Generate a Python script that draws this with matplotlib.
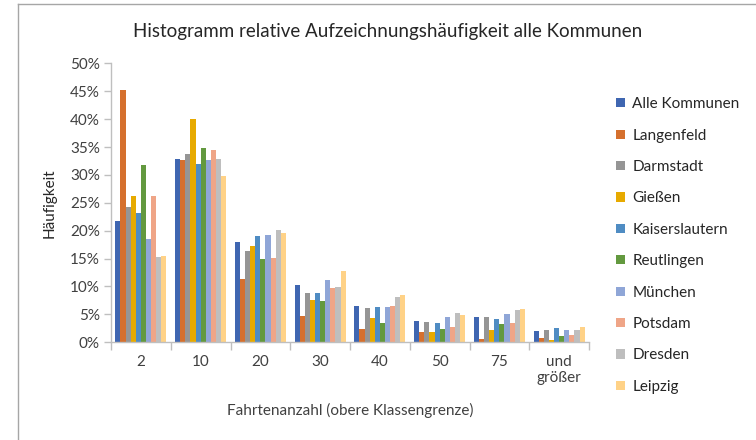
import matplotlib
matplotlib.use("Agg")
import matplotlib.pyplot as plt
from matplotlib.lines import Line2D
from matplotlib.ticker import PercentFormatter, FixedLocator
import numpy as np

plt.rcParams['font.family'] = ['Lato', 'DejaVu Sans']

# class upper bounds
categories = ["2", "10", "20", "30", "40", "50", "75", "und\ngrößer"]

# relative frequency in percent per town
alle_kommunen   = [21.7, 32.9, 17.9, 10.2, 6.5, 3.8, 4.6, 2.1]
langenfeld      = [45.2, 32.6, 11.4, 4.7, 2.4, 1.9, 0.6, 0.8]
darmstadt       = [24.3, 33.8, 16.3, 8.8, 6.1, 3.7, 4.5, 2.2]
giessen         = [26.2, 40.0, 17.2, 7.6, 4.3, 1.9, 2.2, 0.4]
kaiserslautern  = [23.2, 32.0, 19.1, 8.8, 6.3, 3.5, 4.1, 2.5]
reutlingen      = [31.7, 34.9, 15.0, 7.4, 3.5, 2.4, 3.3, 1.2]
muenchen        = [18.6, 32.6, 19.2, 11.1, 6.3, 4.5, 5.0, 2.2]
potsdam         = [26.2, 34.5, 15.1, 9.7, 6.5, 2.7, 3.5, 1.3]
dresden         = [15.3, 32.9, 20.1, 9.9, 8.1, 5.3, 5.8, 2.2]
leipzig         = [15.4, 29.8, 19.6, 12.7, 8.4, 4.9, 6.0, 2.8]

series_names = ["Alle Kommunen", "Langenfeld", "Darmstadt", "Gießen", "Kaiserslautern",
                "Reutlingen", "München", "Potsdam", "Dresden", "Leipzig"]
series_values = [alle_kommunen, langenfeld, darmstadt, giessen, kaiserslautern,
                 reutlingen, muenchen, potsdam, dresden, leipzig]
colors = ["#3F66B1", "#D5702E", "#959595", "#E7AA00", "#4F8CC3",
          "#63993F", "#8FA6D7", "#EFA587", "#BEBEBE", "#FFD287"]

fig = plt.figure(figsize=(7.56, 4.4), dpi=100)
ax = fig.add_axes([111/756, 1 - 342.3/440, (589 - 111)/756, (342.3 - 63.3)/440])

x = np.arange(len(categories))
n = len(series_names)
bw = 0.0855
for i, (name, vals, c) in enumerate(zip(series_names, series_values, colors)):
    offs = (i - (n - 1) / 2) * bw
    ax.bar(x + offs, vals, width=bw, color=c, label=name, linewidth=0)

ax.set_xlim(-0.5, len(categories) - 0.5)
ax.set_ylim(0, 50)
ax.set_yticks(range(0, 51, 5))
ax.yaxis.set_major_formatter(PercentFormatter(decimals=0))
ax.set_xticks(x)
ax.set_xticklabels(categories)
ax.xaxis.set_minor_locator(FixedLocator(np.arange(-0.5, len(categories), 1)))
ax.tick_params(axis='x', which='major', length=0, pad=9, labelsize=11, labelcolor="#404040")
ax.tick_params(axis='x', which='minor', length=6, color="#BFBFBF", width=1)
ax.tick_params(axis='y', length=5, color="#BFBFBF", width=1, labelsize=11,
               labelcolor="#404040", pad=3)

for s in ["top", "right"]:
    ax.spines[s].set_visible(False)
for s in ["left", "bottom"]:
    ax.spines[s].set_color("#BFBFBF")
    ax.spines[s].set_linewidth(1)

fig.text(388/756, 1 - 32/440, "Histogramm relative Aufzeichnungshäufigkeit alle Kommunen",
         ha="center", va="center", fontsize=13.5, color="#262626")
fig.text(50/756, 1 - 203/440, "Häufigkeit", rotation=90, ha="center", va="center",
         fontsize=11, color="#262626")
fig.text(350/756, 1 - 410/440, "Fahrtenanzahl (obere Klassengrenze)", ha="center",
         va="center", fontsize=11, color="#404040")

ax.legend(loc="upper left", bbox_to_anchor=(610/756, 1 - 91/440), bbox_transform=fig.transFigure,
          frameon=False, fontsize=11, labelcolor="#262626", handlelength=0.55,
          handleheight=0.55, handletextpad=0.5, labelspacing=1.14, borderaxespad=0)

# chart frame (only left and top visible in the crop)
fig.add_artist(Line2D([18/756, 18/756], [0, 1 - 4/440], transform=fig.transFigure,
                      color="#A6A6A6", linewidth=1))
fig.add_artist(Line2D([18/756, 1], [1 - 4/440, 1 - 4/440], transform=fig.transFigure,
                      color="#A6A6A6", linewidth=1))

fig.savefig("out.png", dpi=100)
plt.close(fig)
